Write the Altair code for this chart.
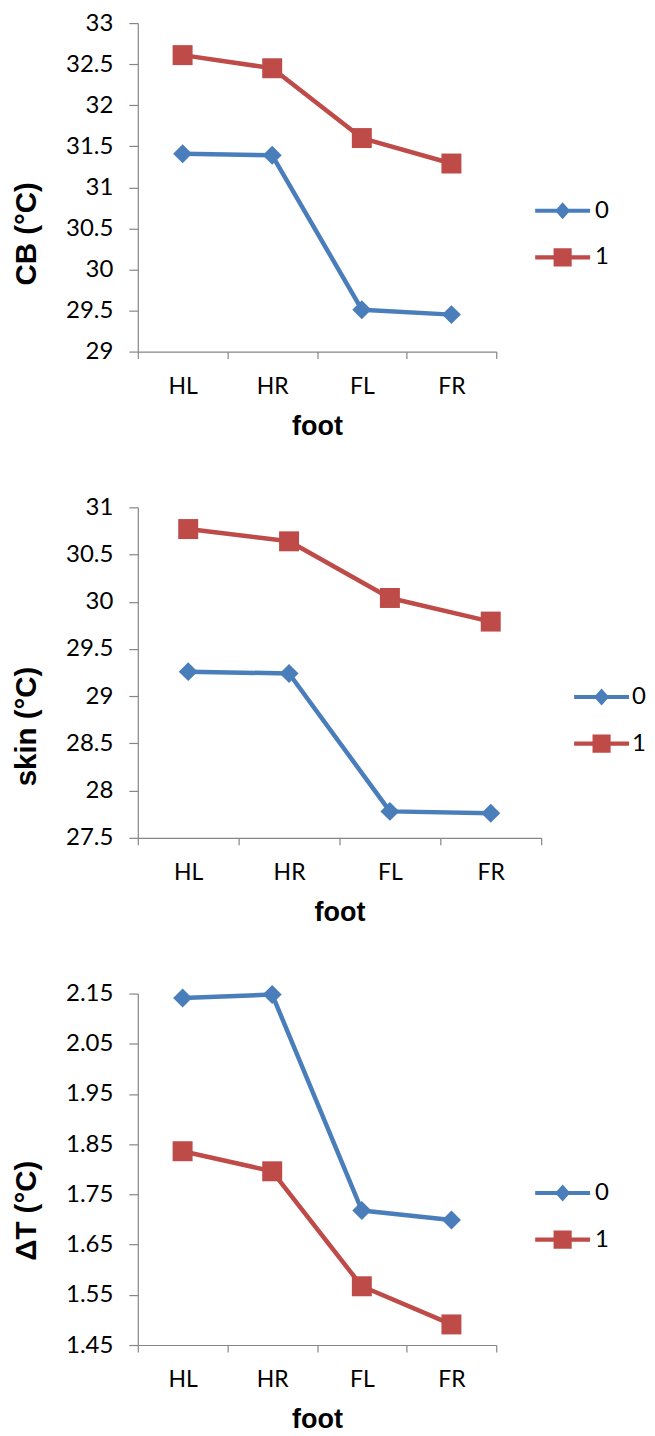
import altair as alt
import pandas as pd

feet = ["HL", "HR", "FL", "FR"]
groups = ["0", "1"]

cb_0 = [31.41, 31.39, 29.51, 29.45]
cb_1 = [32.61, 32.45, 31.60, 31.29]
skin_0 = [29.26, 29.24, 27.78, 27.76]
skin_1 = [30.77, 30.64, 30.04, 29.79]
dt_0 = [2.141, 2.148, 1.718, 1.699]
dt_1 = [1.836, 1.796, 1.567, 1.491]

cb_ticks = [29, 29.5, 30, 30.5, 31, 31.5, 32, 32.5, 33]
skin_ticks = [27.5, 28, 28.5, 29, 29.5, 30, 30.5, 31]
dt_ticks = [1.45, 1.55, 1.65, 1.75, 1.85, 1.95, 2.05, 2.15]

BLUE = "#4A7EBB"
RED = "#BE4B48"
GRAY = "#868686"

LEG_PATHS = [
    "M-2,-0.15H2V0.15H-2Z M-0.55,0L0,-0.62L0.55,0L0,0.62Z",
    "M-2,-0.15H2V0.15H-2Z M-0.66,-0.66H0.66V0.66H-0.66Z",
]


def panel(v0, v1, ticks, domain, title, fmt, width, height, title_y, leg_x, leg_y, leg_off):
    df = pd.DataFrame({"foot": feet * 2, "g": ["0"] * 4 + ["1"] * 4, "v": v0 + v1})
    x = alt.X(
        "foot:N",
        sort=feet,
        scale=alt.Scale(domain=feet, paddingInner=0, paddingOuter=0),
        axis=alt.Axis(
            title="foot", labelAngle=0, tickBand="extent", tickSize=7,
            labelPadding=34.7, labelBaseline="alphabetic", labelFontSize=23,
            titleBaseline="alphabetic", titleY=83,
            titleFont="Liberation Sans", titleFontSize=27, titleFontWeight="bold",
        ),
    )
    y = alt.Y(
        "v:Q",
        scale=alt.Scale(domain=domain, nice=False, zero=False),
        axis=alt.Axis(
            values=ticks, format=fmt, title=title, tickSize=9, labelPadding=16,
            labelFontSize=24,
            grid=False, titleAngle=270, titleX=-102.5, titleY=title_y,
            titleBaseline="alphabetic", titleAlign="center",
            titleFont="Liberation Sans", titleFontSize=29.5, titleFontWeight="bold",
        ),
    )
    base = alt.Chart(df)
    d0 = base.transform_filter(alt.datum.g == "0")
    d1 = base.transform_filter(alt.datum.g == "1")
    l0 = d0.mark_line(strokeWidth=4.5, strokeJoin="round", strokeCap="round", color=BLUE).encode(x=x, y=y)
    l1 = d1.mark_line(strokeWidth=4.5, strokeJoin="round", strokeCap="round", color=RED).encode(x=x, y=y)
    p0 = d0.mark_point(filled=True, shape="diamond", size=361, opacity=1, color=BLUE).encode(x=x, y=y)
    p1 = d1.mark_point(filled=True, shape="square", size=400, opacity=1, color=RED).encode(x=x, y=y)
    leg_kw = dict(
        title=None, orient="none", legendX=leg_x, legendY=leg_y, padding=0,
        rowPadding=20.7, labelOffset=leg_off, labelFont="Lato", labelFontSize=24,
        labelColor="black", symbolStrokeWidth=0, symbolOpacity=1, symbolSize=756,
    )
    leg = base.mark_point(filled=True, opacity=0, size=756).encode(
        x=x, y=y,
        color=alt.Color("g:N", scale=alt.Scale(domain=groups, range=[BLUE, RED]),
                        legend=alt.Legend(**leg_kw)),
        shape=alt.Shape("g:N", scale=alt.Scale(domain=groups, range=LEG_PATHS),
                        legend=alt.Legend(**leg_kw)),
    )
    return alt.layer(l0, l1, p0, p1, leg).properties(width=width, height=height)


c1 = panel(cb_0, cb_1, cb_ticks, [29, 33], "CB (°C)", "~g", 359, 329, 210.5, 411.5, 174, 18.5)
c2 = panel(skin_0, skin_1, skin_ticks, [27.5, 31], "skin (°C)", "~g", 404, 331, 219, 450.5, 176, 16.5)
c3 = panel(dt_0, dt_1, dt_ticks, [1.45, 2.15], "ΔT (°C)", ".2f", 359, 352, 217, 411.5, 185.7, 18.5)

chart = (
    alt.vconcat(c1, c2, c3, spacing=156, bounds="flush")
    .resolve_scale(color="independent", shape="independent")
    .resolve_legend(color="independent", shape="independent")
    .properties(padding={"left": 3, "top": 2, "right": 0, "bottom": 0})
    .configure_view(stroke=None)
    .configure_axis(
        domainColor=GRAY, tickColor=GRAY, domainWidth=1.2, tickWidth=1.2,
        labelColor="black", titleColor="black", labelFont="Lato",
    )
)

chart.save("out.html", embed_options={"renderer": "svg", "actions": False})
